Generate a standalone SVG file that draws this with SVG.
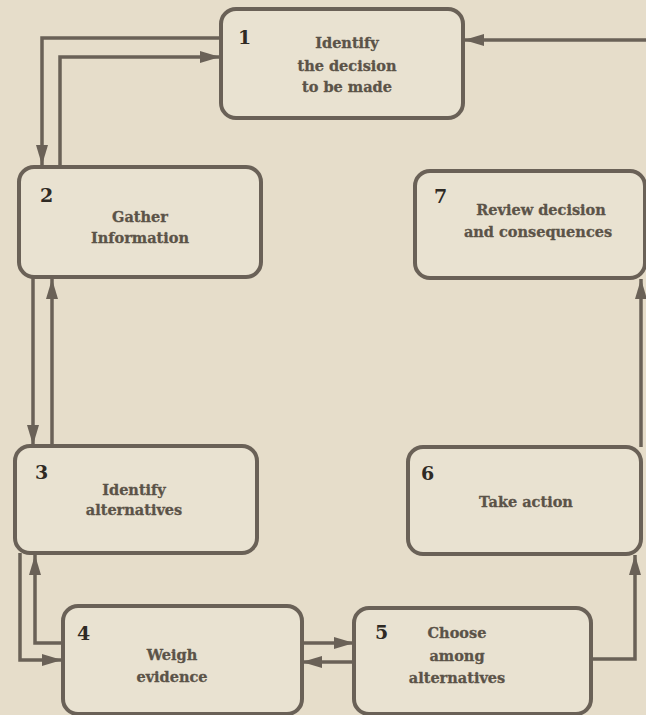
<svg xmlns="http://www.w3.org/2000/svg" width="646" height="715" viewBox="0 0 646 715">
<style>
.bg{fill:#e6ddca}
.box{fill:#e9e2d1;stroke:#6a6157;stroke-width:4}
.num{font-family:"DejaVu Serif",serif;font-weight:bold;font-size:19px;fill:#2f2a24}
.lbl{font-family:"DejaVu Serif",serif;font-weight:bold;font-size:14.5px;fill:#5b5348;stroke:#5b5348;stroke-width:0.3;text-anchor:middle}
.con{fill:none;stroke:#6a6157;stroke-width:3.5}
</style>
<defs>
<marker id="ah" viewBox="0 0 20 12" refX="20" refY="6" markerWidth="20" markerHeight="12" markerUnits="userSpaceOnUse" orient="auto">
<path d="M0,0 L20,6 L0,12 Z" fill="#6a6157"/>
</marker>
</defs>
<rect class="bg" x="0" y="0" width="646" height="715"/>
<g id="connectors">
<path class="con" d="M220,38 H42 V165" marker-end="url(#ah)"/>
<path class="con" d="M60,167 V57 H220" marker-end="url(#ah)"/>
<path class="con" d="M646,40 H464" marker-end="url(#ah)"/>
<path class="con" d="M33,278 V445" marker-end="url(#ah)"/>
<path class="con" d="M52,446 V279" marker-end="url(#ah)"/>
<path class="con" d="M20,553 V660 H62" marker-end="url(#ah)"/>
<path class="con" d="M62,643 H35 V555" marker-end="url(#ah)"/>
<path class="con" d="M302,643 H354" marker-end="url(#ah)"/>
<path class="con" d="M354,662 H302" marker-end="url(#ah)"/>
<path class="con" d="M592,659 H635 V555" marker-end="url(#ah)"/>
<path class="con" d="M641,447 V279" marker-end="url(#ah)"/>
</g>
<g id="node1">
<rect class="box" x="221" y="9" width="242" height="109" rx="15"/>
<text class="num" x="238" y="44">1</text>
<text class="lbl" x="347" y="48">Identify</text>
<text class="lbl" x="347" y="71">the decision</text>
<text class="lbl" x="347" y="92">to be made</text>
</g>
<g id="node2">
<rect class="box" x="19" y="167" width="242" height="110" rx="15"/>
<text class="num" x="40" y="202">2</text>
<text class="lbl" x="140" y="222">Gather</text>
<text class="lbl" x="140" y="243">Information</text>
</g>
<g id="node3">
<rect class="box" x="15" y="446" width="242" height="107" rx="15"/>
<text class="num" x="35" y="479">3</text>
<text class="lbl" x="134" y="495">Identify</text>
<text class="lbl" x="134" y="515">alternatives</text>
</g>
<g id="node4">
<rect class="box" x="63" y="606" width="239" height="108" rx="15"/>
<text class="num" x="77" y="640">4</text>
<text class="lbl" x="172" y="660">Weigh</text>
<text class="lbl" x="172" y="682">evidence</text>
</g>
<g id="node5">
<rect class="box" x="354" y="608" width="237" height="106" rx="15"/>
<text class="num" x="375" y="639">5</text>
<text class="lbl" x="457" y="638">Choose</text>
<text class="lbl" x="457" y="661">among</text>
<text class="lbl" x="457" y="683">alternatives</text>
</g>
<g id="node6">
<rect class="box" x="408" y="447" width="233" height="107" rx="15"/>
<text class="num" x="421" y="480">6</text>
<text class="lbl" x="526" y="507">Take action</text>
</g>
<g id="node7">
<rect class="box" x="415" y="171" width="230" height="107" rx="15"/>
<text class="num" x="434" y="203">7</text>
<text class="lbl" x="541" y="215">Review decision</text>
<text class="lbl" x="538" y="237">and consequences</text>
</g>
</svg>
